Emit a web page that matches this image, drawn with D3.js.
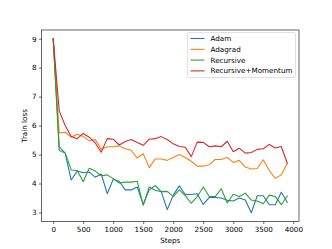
<!DOCTYPE html>
<html>
<head>
<meta charset="utf-8">
<script src="https://cdn.jsdelivr.net/npm/d3@7/dist/d3.min.js"></script>
<style>
  body { margin: 0; background: #fff; }
  svg { display: block; font-family: "DejaVu Sans", sans-serif; }
</style>
</head>
<body>
<svg id="chart" width="332" height="249"></svg>
<script>
// steps 0..3900, every 100
const steps = d3.range(0, 4000, 100);

const adam = [9.0, 5.27, 5.05, 4.12, 4.43, 4.37, 4.4, 4.22, 4.33, 3.65,
  4.15, 4.08, 3.78, 3.78, 3.88, 3.28, 3.78, 3.93, 3.72, 3.1,
  3.6, 3.92, 3.62, 3.62, 3.65, 3.28, 3.52, 3.52, 3.5, 3.42,
  3.4, 3.5, 3.43, 2.99, 3.58, 3.58, 3.27, 3.27, 3.7, 3.35];

const adagrad = [9.0, 5.75, 5.77, 5.6, 5.7, 5.62, 5.48, 5.52, 5.18, 5.27,
  5.27, 5.3, 5.2, 5.15, 4.88, 5.03, 4.55, 4.85, 4.85, 4.8,
  4.9, 5.0, 4.9, 4.77, 4.6, 4.6, 4.65, 4.83, 4.83, 4.9,
  4.73, 4.8, 4.57, 4.5, 4.52, 4.82, 4.45, 4.18, 4.3, 4.7];

const recursive = [9.0, 5.15, 5.05, 4.47, 4.45, 4.06, 4.53, 4.43, 4.27, 4.3,
  4.17, 4.02, 4.05, 4.05, 4.08, 3.25, 3.88, 3.77, 3.72, 3.73,
  3.55, 3.78, 3.58, 3.32, 3.55, 3.88, 3.55, 3.55, 3.82, 3.33,
  3.63, 3.55, 3.67, 3.43, 3.4, 3.3, 3.6, 3.55, 3.27, 3.57];

const momentum = [9.0, 6.51, 6.0, 5.62, 5.55, 5.73, 5.6, 5.4, 5.08, 5.55,
  5.53, 5.33, 5.45, 5.52, 5.42, 5.32, 5.53, 5.55, 5.62, 5.52,
  5.37, 5.28, 5.25, 4.93, 5.43, 5.42, 5.27, 5.3, 5.27, 5.46,
  5.1, 5.22, 5.05, 5.07, 5.18, 5.2, 5.35, 5.23, 5.28, 4.7];

const seriesNames = ["Adam", "Adagrad", "Recursive", "Recursive+Momentum"];
const seriesValues = [adam, adagrad, recursive, momentum];
const colors = ["#1f77b4", "#ff7f0e", "#2ca02c", "#d62728"];

const xTicks = [0, 500, 1000, 1500, 2000, 2500, 3000, 3500, 4000];
const yTicks = [3, 4, 5, 6, 7, 8, 9];

const svg = d3.select("#chart");
const margin = { top: 30, right: 33, bottom: 27.5, left: 41.5 };
const width = +svg.attr("width") - margin.left - margin.right;
const height = +svg.attr("height") - margin.top - margin.bottom;

const g = svg.append("g").attr("transform", `translate(${margin.left},${margin.top})`);

// matplotlib-style 5% padding on the data range
const xExt = d3.extent(steps);
const xPad = (xExt[1] - xExt[0]) * 0.05;
const allY = seriesValues.flat();
const yExt = d3.extent(allY);
const yPad = (yExt[1] - yExt[0]) * 0.05;

const x = d3.scaleLinear().domain([xExt[0] - xPad, xExt[1] + xPad]).range([0, width]);
const y = d3.scaleLinear().domain([yExt[0] - yPad, yExt[1] + yPad]).range([height, 0]);

// axes
const xAxis = g.append("g")
  .attr("transform", `translate(0,${height})`)
  .call(d3.axisBottom(x).tickValues(xTicks).tickSize(2.5).tickPadding(2.5).tickFormat(d3.format("d")));
const yAxis = g.append("g")
  .call(d3.axisLeft(y).tickValues(yTicks).tickSize(2.5).tickPadding(2.5).tickFormat(d3.format("d")));

[xAxis, yAxis].forEach(a => {
  a.select(".domain").remove();
  a.selectAll(".tick line").attr("stroke", "#000").attr("stroke-width", 0.6);
  a.selectAll("text").attr("font-size", "7.2px").attr("fill", "#000")
    .attr("font-family", "DejaVu Sans, sans-serif");
});

// lines
const line = d3.line().x((d, i) => x(steps[i])).y(d => y(d));
seriesValues.forEach((vals, i) => {
  g.append("path")
    .datum(vals)
    .attr("fill", "none")
    .attr("stroke", colors[i])
    .attr("stroke-width", 1.08)
    .attr("stroke-linejoin", "round")
    .attr("stroke-linecap", "square")
    .attr("d", line);
});

// frame
g.append("rect")
  .attr("width", width).attr("height", height)
  .attr("fill", "none").attr("stroke", "#000").attr("stroke-width", 0.6);

// axis labels
g.append("text")
  .attr("x", width / 2)
  .attr("y", height + 21)
  .attr("text-anchor", "middle")
  .attr("font-size", "7.2px")
  .text("Steps");
g.append("text")
  .attr("transform", `translate(${-14.5},${height / 2}) rotate(-90)`)
  .attr("text-anchor", "middle")
  .attr("font-size", "7.2px")
  .text("Train loss");

// legend
const lg = g.append("g").attr("transform", `translate(${width - 111.5},${2.5})`);
lg.append("rect")
  .attr("width", 108).attr("height", 45)
  .attr("rx", 1.5)
  .attr("fill", "#fff").attr("fill-opacity", 0.8)
  .attr("stroke", "#ccc").attr("stroke-width", 0.6);
seriesNames.forEach((name, i) => {
  const yy = 6 + i * 10.8;
  lg.append("line")
    .attr("x1", 3).attr("x2", 17)
    .attr("y1", yy).attr("y2", yy)
    .attr("stroke", colors[i]).attr("stroke-width", 1.08);
  lg.append("text")
    .attr("x", 23).attr("y", yy)
    .attr("dy", "0.35em")
    .attr("font-size", "7.2px")
    .text(name);
});
</script>
</body>
</html>
